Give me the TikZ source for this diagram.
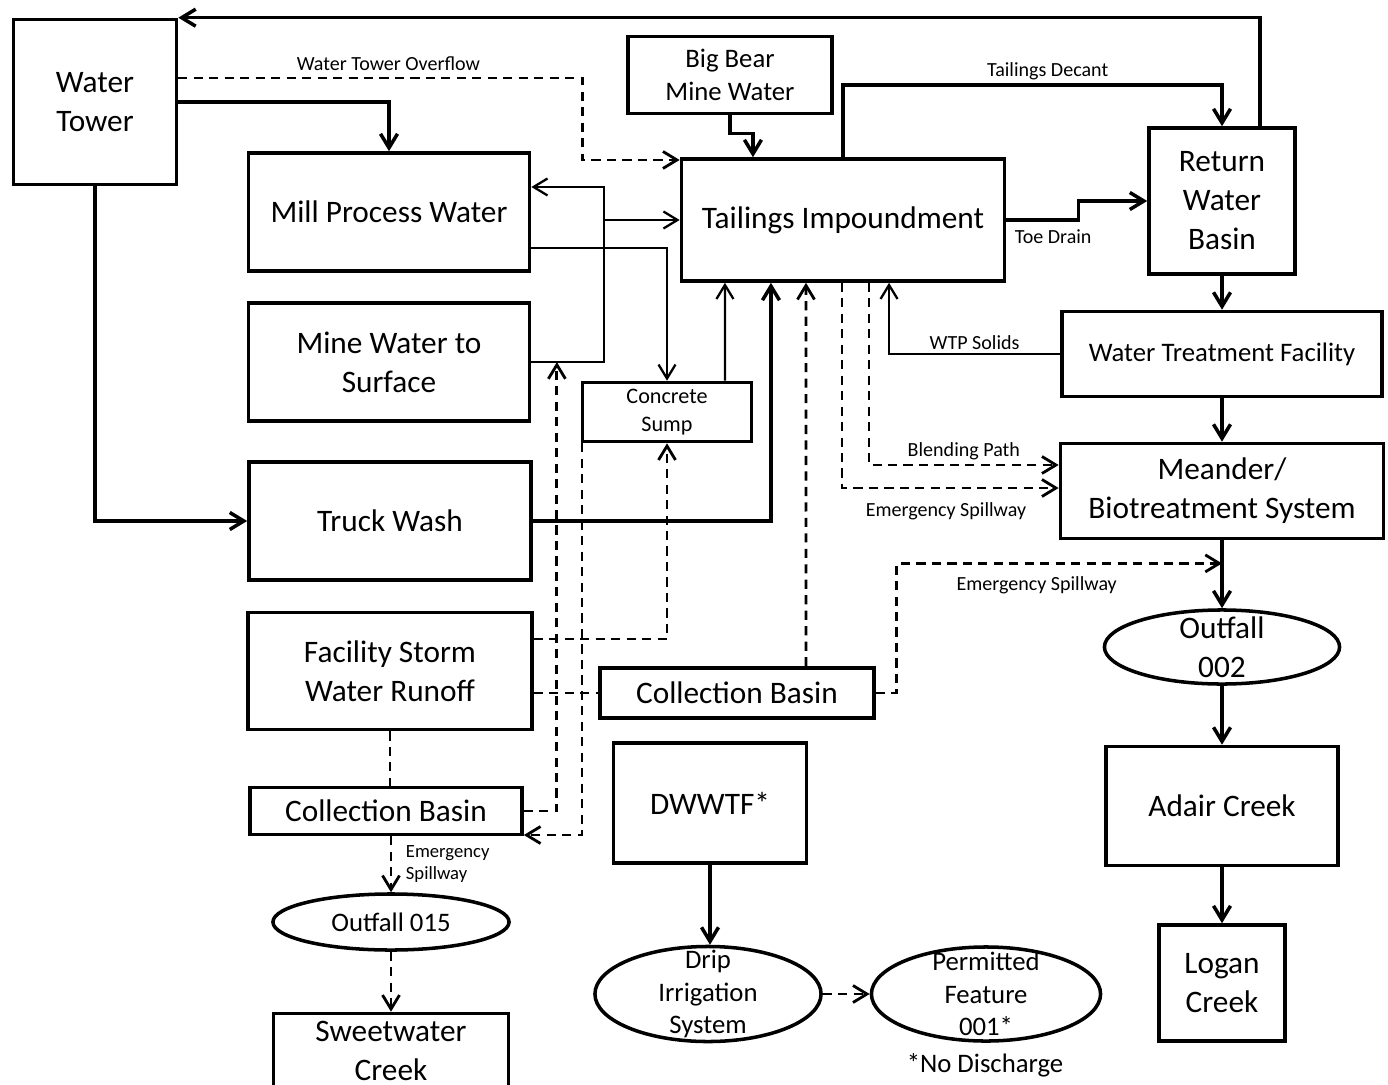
\documentclass[tikz,border=0pt]{standalone}
\usepackage{fontspec}
\setmainfont{Carlito}
\usepackage{tikz}
\usetikzlibrary{arrows.meta,shapes,calc,positioning}
\newcommand{\boxfont}{\fontsize{8.9}{11.1}\selectfont}
\newcommand{\midfont}{\fontsize{7.6}{9.3}\selectfont}
\newcommand{\sumpfont}{\fontsize{6.3}{8}\selectfont}
\newcommand{\lblfont}{\fontsize{5.7}{6.8}\selectfont}
\newcommand{\spillfont}{\fontsize{5.3}{6.3}\selectfont}

\begin{document}
\begin{tikzpicture}[x=0.01cm, y=-0.01cm]
\tikzstyle{main}=[rectangle, draw=black, line width=1pt, align=center, inner sep=1pt, font=\boxfont, node distance=1.5cm]
\tikzstyle{oval}=[main, ellipse]
\tikzstyle{lbl}=[font=\lblfont, inner sep=1pt]
\tikzstyle{connect}=[-{Straight Barb[length=1.4mm,width=1.7mm]}, line width=1pt]
\tikzstyle{connectthin}=[connect, line width=0.65pt]
\tikzstyle{dashline}=[line width=0.8pt, dash pattern=on 2.6pt off 1.8pt]
\tikzstyle{connectdash}=[connect, dashline]

  \useasboundingbox (0,0) rectangle (1388,1085);

  % left column
  \node[main, minimum width=1.63cm, minimum height=1.65cm] (tower)  at (95,102)  {Water\\Tower};
  \node[main, minimum width=2.81cm, minimum height=1.18cm] (mill)   at (389,212) {Mill Process Water};
  \node[main, minimum width=2.81cm, minimum height=1.18cm] (mine)   [below of =mill]  {Mine Water to\\Surface};
  \node[main, minimum width=2.82cm, minimum height=1.18cm] (truck)  at (390,521) {Truck Wash};
  \node[main, minimum width=2.84cm, minimum height=1.17cm] (storm)  [below of =truck] {Facility Storm\\Water Runoff};
  \node[main, minimum width=2.72cm, minimum height=0.47cm] (basinL) at (386,811) {Collection Basin};
  \node[oval, font=\midfont, minimum width=2.36cm, minimum height=0.56cm] (out015) at (391,922) {Outfall 015};
  \node[main, minimum width=2.35cm, minimum height=0.75cm] (sweet)  at (391,1051) {Sweetwater\\Creek};

  % middle
  \node[main, font=\midfont, minimum width=2.04cm, minimum height=0.77cm] (bigbear) at (730,75) {Big Bear\\Mine Water};
  \node[main, minimum width=3.23cm, minimum height=1.22cm] (tail)   at (843,220) {Tailings Impoundment};
  \node[main, font=\sumpfont, minimum width=1.69cm, minimum height=0.59cm] (sump) at (667,412) {Concrete\\Sump};
  \node[main, minimum width=2.74cm, minimum height=0.50cm] (basinM) at (737,693) {Collection Basin};
  \node[main, minimum width=1.93cm, minimum height=1.20cm] (dwwtf)  at (710,803) {DWWTF*};
  \node[oval, minimum width=2.26cm, minimum height=0.95cm,
        label={[font=\midfont, align=center]center:Drip\\Irrigation\\System}] (drip) at (708,994) {};
  \node[oval, minimum width=2.29cm, minimum height=0.94cm,
        label={[font=\midfont, align=center]center:Permitted\\Feature\\001*}] (permit) at (986,994) {};
  \node[lbl, font=\midfont] (nodisch) at (985,1065) {*No Discharge};

  % right column
  \node[main, minimum width=1.46cm, minimum height=1.46cm] (rwb)     at (1222,201) {Return\\Water\\Basin};
  \node[main, font=\midfont, minimum width=3.20cm, minimum height=0.85cm] (wtf) at (1222,354) {Water Treatment Facility};
  \node[main, minimum width=3.23cm, minimum height=0.95cm] (meander) at (1222,491) {Meander/\\Biotreatment System};
  \node[oval, minimum width=2.35cm, minimum height=0.74cm,
        label={[font=\boxfont, align=center]center:Outfall\\002}] (out002) at (1222,647) {};
  \node[main, minimum width=2.32cm, minimum height=1.19cm] (adair)   at (1222,806) {Adair Creek};
  \node[main, minimum width=1.26cm, minimum height=1.16cm] (logan)   at (1222,983) {Logan\\Creek};

  \coordinate (spillin) at ($(meander.south)!0.34!(out002.north)$);
  \path (mine.east) -- ++(73,0) coordinate (minecorner);
  \coordinate (split) at (minecorner |- tail.west);
  \coordinate (minetap) at ($(mine.east)!0.35!(minecorner)$);

  \path (rwb) edge [connect] (wtf);
  \path (wtf) edge [connect] (meander);
  \path (meander) edge [connect] (out002);
  \path (out002) edge [connect] (adair);
  \path (adair) edge [connect] (logan);
  \path (dwwtf.south) edge [connect] (dwwtf.south |- drip.north);
  \path (drip) edge [connectdash] (permit);
  \path (basinL.south -| out015.north) edge [connectdash]
        node[lbl, font=\spillfont, right, align=left, xshift=0.1cm] {Emergency\\Spillway} (out015.north);
  \path (out015) edge [connectdash] (sweet);

  \draw[connect] ([xshift=0.38cm]rwb.north) |- (tower.north east);
  \draw[connectdash] ([yshift=0.24cm]tower.east) -- ++(404,0) node[lbl, above, pos=0.52, yshift=0.02cm] {Water Tower Overflow}
        |- ([yshift=0.6cm]tail.west);
  \draw[connect] (tower.east) -| (mill.north);
  \draw[connect] (tower.south) |- (truck.west);
  \draw[connect] (bigbear.south) -- ++(0,18) -| ([xshift=-0.9cm]tail.north);
  \draw[connect] (tail.north) -- ++(0,-72) -| node[lbl, above, pos=0.27] {Tailings Decant} (rwb.north);
  \draw[connect] (tail.east) -- ++(72,0) node[lbl, below, pos=0.65, yshift=-0.04cm] {Toe Drain} |- (rwb.west);
  \draw[connectthin] (wtf.west) -| node[lbl, above, pos=0.25] {WTP Solids} ([xshift=0.46cm]tail.south);
  \draw[connectdash] ([xshift=0.26cm]tail.south) |- node[lbl, above, pos=0.75] {Blending Path} ([yshift=0.26cm]meander.west);
  \draw[connectdash] ([xshift=-0.01cm]tail.south) |- node[lbl, below, pos=0.74, yshift=-0.1cm] {Emergency Spillway} ([yshift=0.03cm]meander.west);
  \draw[connectdash] (basinM.east) -- ++(21,0) |- node[lbl, below, pos=0.715, yshift=-0.08cm] {Emergency Spillway} (spillin);
  \draw[connectdash] ([xshift=0.69cm]basinM.north) -- ([xshift=-0.37cm]tail.south);
  \draw[connect] (truck.east) -| ([xshift=-0.72cm]tail.south);
  \draw[connectthin] ([xshift=0.58cm]sump.north) -- ([xshift=-1.18cm]tail.south);
  \draw[connectthin] ([yshift=-0.36cm]mill.east) -| (sump.north);
  \draw[connectthin] (mine.east) -- (minecorner) |- ([yshift=0.25cm]mill.east);
  \draw[connectthin] (split) -- (tail.west);
  \draw[connectdash] (basinL.east) -| (minetap);
  \draw[connectdash] ([xshift=-0.85cm]sump.south) |- ([yshift=-0.24cm]basinL.east);
  \draw[connectdash] ([yshift=0.32cm]storm.east) -| (sump.south);
  \draw[dashline] (storm.east |- basinM.west) -- (basinM.west);
  \draw[dashline] (storm.south) -- (storm.south |- basinL.north);

\end{tikzpicture}
\end{document}
